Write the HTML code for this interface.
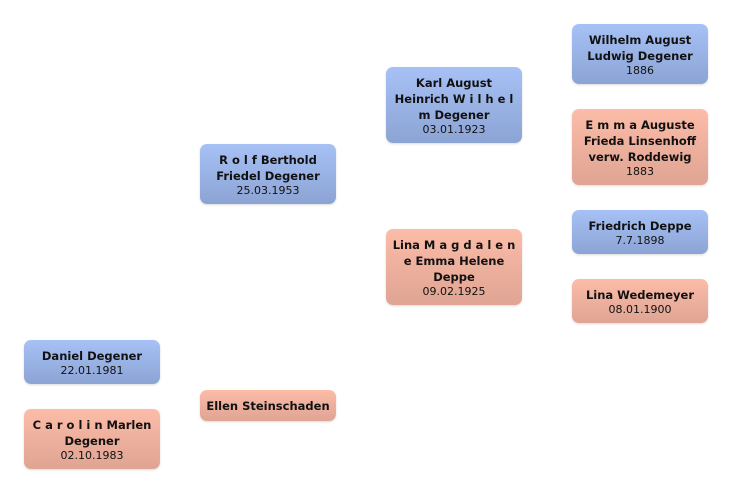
<!DOCTYPE html>
<html><head><meta charset="utf-8"><style>
html,body{margin:0;padding:0;background:#fff;width:732px;height:494px;overflow:hidden;position:relative;font-family:"DejaVu Sans","Liberation Sans",sans-serif;}
.b{position:absolute;width:136px;border-radius:7px;display:flex;flex-direction:column;justify-content:center;align-items:center;text-align:center;color:#111;box-shadow:0 1px 2px rgba(0,0,0,0.15);}
.m{background:linear-gradient(#a7c1f6,#8ca4d4);}
.f{background:linear-gradient(#fcbca8,#dfa493);}
.n{font-weight:bold;font-size:11.5px;line-height:16px;padding:0 4px;}
.d{font-size:11px;line-height:13px;}
</style></head><body>
<div class="b m" style="left:24px;top:340px;height:44px"><div class="n">Daniel Degener</div><div class="d">22.01.1981</div></div>
<div class="b f" style="left:24px;top:409px;height:60px"><div class="n">C a r o l i n Marlen Degener</div><div class="d">02.10.1983</div></div>
<div class="b f" style="left:200px;top:390px;height:31px"><div class="n">Ellen Steinschaden</div></div>
<div class="b m" style="left:200px;top:144px;height:60px"><div class="n">R o l f Berthold Friedel Degener</div><div class="d">25.03.1953</div></div>
<div class="b m" style="left:386px;top:67px;height:76px"><div class="n">Karl August Heinrich W i l h e l m Degener</div><div class="d">03.01.1923</div></div>
<div class="b f" style="left:386px;top:229px;height:76px"><div class="n">Lina M a g d a l e n e Emma Helene Deppe</div><div class="d">09.02.1925</div></div>
<div class="b m" style="left:572px;top:24px;height:60px"><div class="n">Wilhelm August Ludwig Degener</div><div class="d">1886</div></div>
<div class="b f" style="left:572px;top:109px;height:76px"><div class="n">E m m a Auguste Frieda Linsenhoff verw. Roddewig</div><div class="d">1883</div></div>
<div class="b m" style="left:572px;top:210px;height:44px"><div class="n">Friedrich Deppe</div><div class="d">7.7.1898</div></div>
<div class="b f" style="left:572px;top:279px;height:44px"><div class="n">Lina Wedemeyer</div><div class="d">08.01.1900</div></div>
</body></html>
